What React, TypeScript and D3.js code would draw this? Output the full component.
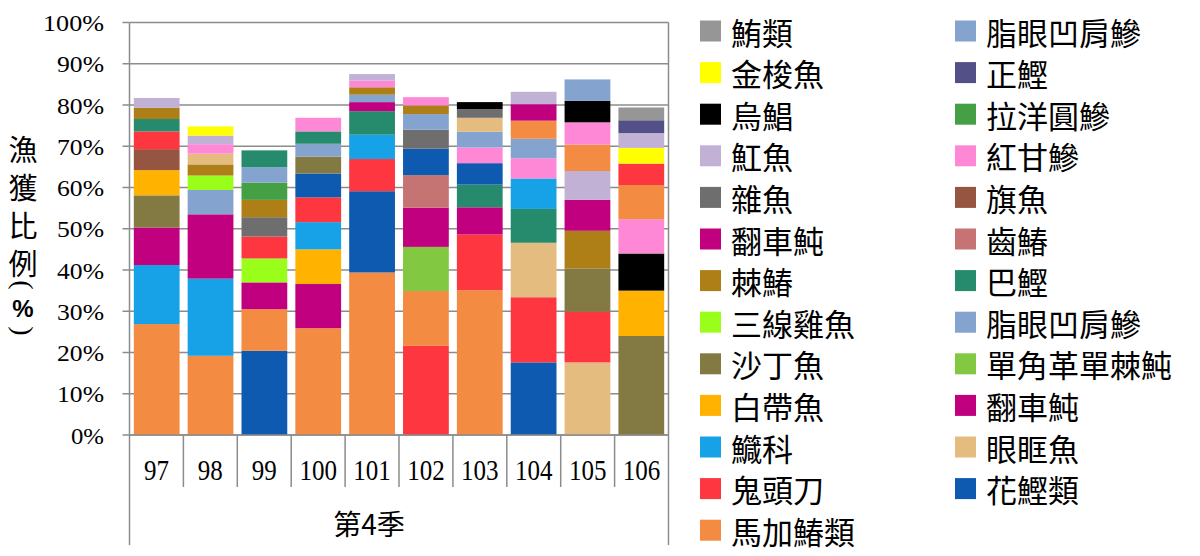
import React from 'react';
import * as d3 from 'd3';

const years = ['97', '98', '99', '100', '101', '102', '103', '104', '105', '106'];
const axisTitle = '第4季';
const yTitleChars = ['漁', '獲', '比', '例'];
const yTicks = [0, 10, 20, 30, 40, 50, 60, 70, 80, 90, 100];

const speciesNames = ['鮪類', '金梭魚', '烏鯧', '魟魚', '雜魚', '翻車魨', '棘鰆', '三線雞魚', '沙丁魚', '白帶魚', '鱵科', '鬼頭刀', '馬加鰆類',
  '脂眼凹肩鰺', '正鰹', '拉洋圓鰺', '紅甘鰺', '旗魚', '齒鰆', '巴鰹', '單角革單棘魨', '眼眶魚', '花鰹類'];
const speciesColors = ['#969696', '#FFFF00', '#000000', '#C0B1D5', '#6E6E6E', '#C0007F', '#AE7F17', '#99FF1A', '#827A42', '#FFB300', '#17A2E8', '#FD3640', '#F48B43',
  '#85A3CF', '#534F87', '#45A045', '#FF88D6', '#965540', '#C67373', '#268A6C', '#83C841', '#E5BC7F', '#0E5AB0'];

const legendLeft = ['鮪類', '金梭魚', '烏鯧', '魟魚', '雜魚', '翻車魨', '棘鰆', '三線雞魚', '沙丁魚', '白帶魚', '鱵科', '鬼頭刀', '馬加鰆類'];
const legendRight = ['脂眼凹肩鰺', '正鰹', '拉洋圓鰺', '紅甘鰺', '旗魚', '齒鰆', '巴鰹', '脂眼凹肩鰺', '單角革單棘魨', '翻車魨', '眼眶魚', '花鰹類'];

// stacked segments per year, bottom to top
const sp97 = ['馬加鰆類', '鱵科', '翻車魨', '沙丁魚', '白帶魚', '旗魚', '鬼頭刀', '巴鰹', '棘鰆', '魟魚'];
const val97 = [26.9, 14.3, 9.1, 7.8, 6.1, 5.1, 4.3, 3.0, 2.7, 2.4];
const sp98 = ['馬加鰆類', '鱵科', '翻車魨', '脂眼凹肩鰺', '三線雞魚', '棘鰆', '眼眶魚', '紅甘鰺', '魟魚', '金梭魚'];
const val98 = [19.2, 18.7, 15.6, 5.9, 3.5, 2.7, 2.6, 2.3, 2.1, 2.2];
const sp99 = ['花鰹類', '馬加鰆類', '翻車魨', '三線雞魚', '鬼頭刀', '雜魚', '棘鰆', '拉洋圓鰺', '脂眼凹肩鰺', '巴鰹'];
const val99 = [20.4, 10.1, 6.5, 5.8, 5.3, 4.7, 4.2, 4.2, 3.7, 4.1];
const sp100 = ['馬加鰆類', '翻車魨', '白帶魚', '鱵科', '鬼頭刀', '花鰹類', '沙丁魚', '脂眼凹肩鰺', '巴鰹', '紅甘鰺'];
const val100 = [25.9, 10.7, 8.4, 6.6, 6.0, 5.8, 4.1, 3.1, 3.0, 3.3];
const sp101 = ['馬加鰆類', '花鰹類', '鬼頭刀', '鱵科', '巴鰹', '翻車魨', '脂眼凹肩鰺', '棘鰆', '紅甘鰺', '魟魚'];
const val101 = [39.4, 19.7, 7.8, 5.9, 5.7, 2.2, 1.8, 1.8, 1.6, 1.6];
const sp102 = ['鬼頭刀', '馬加鰆類', '單角革單棘魨', '翻車魨', '齒鰆', '花鰹類', '雜魚', '脂眼凹肩鰺', '棘鰆', '紅甘鰺'];
const val102 = [21.6, 13.3, 10.7, 9.5, 7.9, 6.4, 4.6, 3.8, 2.1, 2.0];
const sp103 = ['馬加鰆類', '鬼頭刀', '翻車魨', '巴鰹', '花鰹類', '紅甘鰺', '脂眼凹肩鰺', '眼眶魚', '雜魚', '烏鯧'];
const val103 = [35.1, 13.5, 6.6, 5.5, 5.2, 3.8, 3.8, 3.4, 2.1, 1.7];
const sp104 = ['花鰹類', '鬼頭刀', '眼眶魚', '巴鰹', '鱵科', '紅甘鰺', '脂眼凹肩鰺', '馬加鰆類', '翻車魨', '魟魚'];
const val104 = [17.6, 15.8, 13.2, 8.2, 7.4, 4.9, 4.7, 4.4, 4.0, 3.0];
const sp105 = ['眼眶魚', '鬼頭刀', '沙丁魚', '棘鰆', '翻車魨', '魟魚', '馬加鰆類', '紅甘鰺', '烏鯧', '脂眼凹肩鰺'];
const val105 = [17.6, 12.3, 10.5, 9.1, 7.5, 7.0, 6.4, 5.4, 5.2, 5.2];
const sp106 = ['沙丁魚', '白帶魚', '烏鯧', '紅甘鰺', '馬加鰆類', '鬼頭刀', '金梭魚', '魟魚', '正鰹', '鮪類'];
const val106 = [24.0, 11.0, 9.0, 8.3, 8.3, 5.2, 3.8, 3.6, 3.1, 3.1];

const stackNames = [sp97, sp98, sp99, sp100, sp101, sp102, sp103, sp104, sp105, sp106];
const stackValues = [val97, val98, val99, val100, val101, val102, val103, val104, val105, val106];

const W = 1200, H = 556;
const plotL = 129.5, plotR = 668.5, plotT = 22.5, plotB = 435;
const serif = '"Liberation Serif", "Times New Roman", serif';
const cjk = '"Noto Sans CJK TC", "Noto Sans CJK SC", sans-serif';
const gridColor = '#8C8C8C';

export default function App() {
  const colorOf = d3.scaleOrdinal<string, string>().domain(speciesNames).range(speciesColors);
  const x = d3.scaleBand<string>().domain(years).range([plotL, plotR]).paddingInner(0.15).paddingOuter(0.08);
  const band = d3.scaleBand<string>().domain(years).range([plotL, plotR]).padding(0);
  const y = d3.scaleLinear().domain([0, 100]).range([plotB, plotT]);

  const segments = years.flatMap((yr, i) => {
    const vals = stackValues[i];
    const tops = d3.cumsum(vals);
    return vals.map((v, j) => ({
      key: `${yr}-${j}`,
      yr,
      name: stackNames[i][j],
      y0: tops[j] - v,
      y1: tops[j],
    }));
  });

  const boundaries = d3.range(years.length + 1).map((k) => (k < years.length ? band(years[k])! : plotR));
  const rowStep = 41.6;

  return (
    <svg width={W} height={H} style={{ position: 'absolute', left: 0, top: 0, background: '#fff' }}>
      <rect x={0} y={0} width={W} height={H} fill="#fff" />
      {/* gridlines */}
      {yTicks.map((t) => (
        <line key={`g${t}`} x1={plotL} x2={plotR} y1={y(t)} y2={y(t)} stroke={gridColor} strokeWidth={1.5} />
      ))}
      {/* right border */}
      <line x1={plotR} x2={plotR} y1={plotT} y2={plotB} stroke={gridColor} strokeWidth={1.5} />
      {/* bars */}
      {segments.map((s) => (
        <rect
          key={s.key}
          x={x(s.yr)}
          width={x.bandwidth()}
          y={y(s.y1)}
          height={y(s.y0) - y(s.y1)}
          fill={colorOf(s.name)}
        />
      ))}
      {/* y axis */}
      <line x1={plotL} x2={plotL} y1={plotT} y2={plotB} stroke={gridColor} strokeWidth={1.5} />
      {yTicks.map((t) => {
        const label = `${t}%`;
        return (
          <g key={`t${t}`}>
            <line x1={plotL - 7} x2={plotL} y1={y(t)} y2={y(t)} stroke={gridColor} strokeWidth={1.5} />
            <text x={104} y={y(t) + 1} textAnchor="end" dominantBaseline="central" fontFamily={serif} fontSize={23}
              textLength={(label.length - 1) * 14 + 19} lengthAdjust="spacingAndGlyphs" fill="#000">
              {label}
            </text>
          </g>
        );
      })}
      {/* category axis */}
      <line x1={plotL} x2={plotR} y1={plotB} y2={plotB} stroke={gridColor} strokeWidth={1.5} />
      {boundaries.map((bx, k) => (
        <line
          key={`c${k}`}
          x1={bx}
          x2={bx}
          y1={plotB}
          y2={k === 0 || k === years.length ? 545 : 487}
          stroke={gridColor}
          strokeWidth={1.5}
        />
      ))}
      {years.map((yr) => (
        <text key={`l${yr}`} x={band(yr)! + band.bandwidth() / 2} y={469} textAnchor="middle" dominantBaseline="central" fontFamily={serif} fontSize={30}
          textLength={yr.length * 12.5} lengthAdjust="spacingAndGlyphs" fill="#000">
          {yr}
        </text>
      ))}
      <text x={369} y={523} textAnchor="middle" dominantBaseline="central" fontFamily={cjk} fontSize={28} fill="#000">
        {axisTitle}
      </text>
      {/* y title */}
      {yTitleChars.map((c, i) => (
        <text key={`yt${i}`} x={23} y={148 + i * 38} textAnchor="middle" dominantBaseline="central" fontFamily={cjk} fontSize={29} fill="#000">
          {c}
        </text>
      ))}
      <text x={23} y={285} textAnchor="middle" dominantBaseline="central" fontFamily={serif} fontSize={28} fill="#000" transform="rotate(90 23 285)">(</text>
      <text x={23} y={308} textAnchor="middle" dominantBaseline="central" fontFamily='"Liberation Sans", Arial, sans-serif' fontWeight="bold" fontSize={24} fill="#000">%</text>
      <text x={23} y={331} textAnchor="middle" dominantBaseline="central" fontFamily={serif} fontSize={28} fill="#000" transform="rotate(90 23 331)">)</text>
      {/* legend */}
      {legendLeft.map((n, i) => (
        <g key={`ll${i}`}>
          <rect x={700} y={31 + i * rowStep - 10.5} width={21} height={21} fill={colorOf(n)} />
          <text x={731} y={31 + i * rowStep} dominantBaseline="central" fontFamily={cjk} fontSize={31} fill="#000">{n}</text>
        </g>
      ))}
      {legendRight.map((n, i) => (
        <g key={`lr${i}`}>
          <rect x={955} y={31 + i * rowStep - 10.5} width={21} height={21} fill={colorOf(n)} />
          <text x={986} y={31 + i * rowStep} dominantBaseline="central" fontFamily={cjk} fontSize={31} fill="#000">{n}</text>
        </g>
      ))}
    </svg>
  );
}
